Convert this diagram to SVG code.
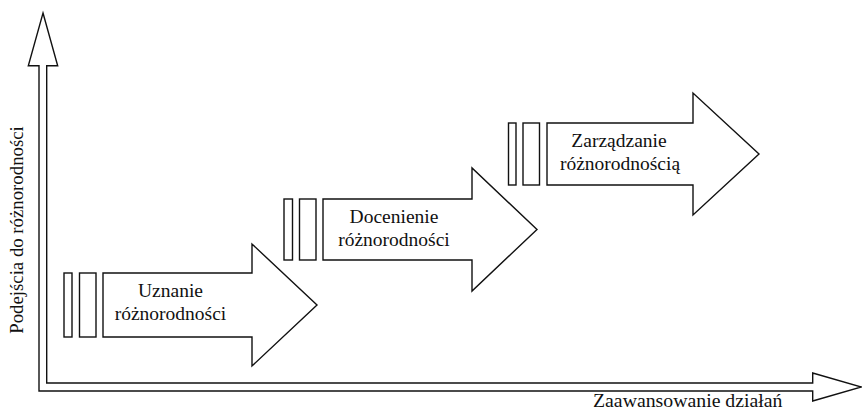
<svg xmlns="http://www.w3.org/2000/svg" width="862" height="419" viewBox="0 0 862 419">
<style>
.s{fill:#fff;stroke:#111;stroke-width:1.4;stroke-linejoin:miter}
.t{font-family:"Liberation Serif","Times New Roman",serif;font-size:19.5px;fill:#111}
.m{text-anchor:middle}
</style>
<rect width="862" height="419" fill="#fff"/>
<g id="axes">
<polygon class="s" points="43,13 57.7,65.7 46.7,65.7 46.7,383 812.7,383 812.7,373 861.5,387 812.7,401 812.7,391 39,391 39,65.7 28.3,65.7"/>
<text class="t" transform="translate(22.5,230) rotate(-90)" text-anchor="middle" style="font-size:18.8px">Podejścia do różnorodności</text>
<text class="t" x="593" y="407" style="font-size:19.8px">Zaawansowanie działań</text>
</g>
<g id="step1">
<rect class="s" x="64" y="273" width="8" height="64"/>
<rect class="s" x="79.5" y="273" width="16.5" height="64"/>
<polygon class="s" points="103,273 252,273 252,244 317,305 252,366 252,337 103,337"/>
<text class="t m" x="170.5" y="297">Uznanie</text>
<text class="t m" x="170.5" y="320">różnorodności</text>
</g>
<g id="step2">
<rect class="s" x="284" y="199" width="8.5" height="61"/>
<rect class="s" x="299.5" y="199" width="16.5" height="61"/>
<polygon class="s" points="323,199 472,199 472,168 537,229.5 472,291 472,260 323,260"/>
<text class="t m" x="394" y="223">Docenienie</text>
<text class="t m" x="394" y="246">różnorodności</text>
</g>
<g id="step3">
<rect class="s" x="508.5" y="123" width="7.5" height="62"/>
<rect class="s" x="523" y="123" width="16.5" height="62"/>
<polygon class="s" points="547,123 693,123 693,93 759,154 693,215 693,185 547,185"/>
<text class="t m" x="619" y="147">Zarządzanie</text>
<text class="t m" x="620" y="169.5">różnorodnością</text>
</g>
</svg>
